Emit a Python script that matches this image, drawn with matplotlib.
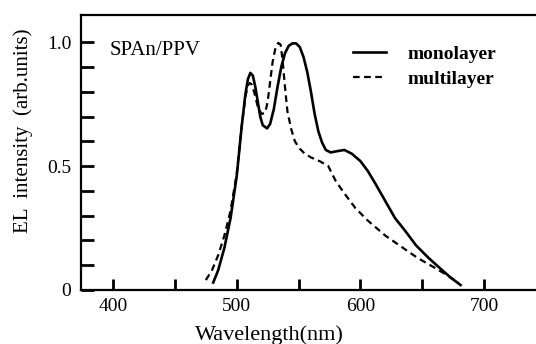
import numpy as np
import matplotlib
matplotlib.use('Agg')
import matplotlib.pyplot as plt

# EL spectra (wavelength in nm, intensity in arb. units)
mono_wl = [481, 485, 490, 495, 500, 504, 507, 509, 511, 513, 515, 517, 519, 521,
           524.5, 527, 530, 533, 536, 539, 542, 545, 548, 551, 554, 557, 560,
           563, 566, 569, 572, 576, 581, 587, 593, 600, 606, 612, 620, 628,
           636, 645, 655, 665, 673, 681]
mono_i = [0.03, 0.08, 0.17, 0.29, 0.46, 0.66, 0.79, 0.85, 0.876, 0.865, 0.82, 0.76,
          0.70, 0.665, 0.652, 0.67, 0.73, 0.82, 0.90, 0.955, 0.985, 0.995, 0.995, 0.98,
          0.94, 0.88, 0.80, 0.71, 0.64, 0.595, 0.565, 0.555, 0.56, 0.565, 0.55, 0.52,
          0.48, 0.43, 0.36, 0.29, 0.24, 0.18, 0.13, 0.085, 0.05, 0.02]

multi_wl = [475, 480, 485, 490, 495, 500, 504, 507, 509, 510.5, 512, 514, 517, 520,
            523, 525, 527, 529, 531, 533.5, 535.5, 537, 539, 541, 544, 547, 551,
            555, 560, 567, 574, 580, 587, 596, 606, 620, 633, 646, 660, 670, 679]
multi_i = [0.04, 0.08, 0.14, 0.22, 0.32, 0.47, 0.66, 0.78, 0.825, 0.835, 0.83, 0.80,
           0.74, 0.71, 0.715, 0.76, 0.84, 0.92, 0.97, 0.997, 0.99, 0.93, 0.82, 0.72,
           0.65, 0.60, 0.57, 0.55, 0.535, 0.52, 0.50, 0.44, 0.39, 0.33, 0.28, 0.22,
           0.175, 0.13, 0.09, 0.06, 0.03]

x_major = [400, 500, 600, 700]
x_minor = [450, 550, 650]
y_major = [0, 0.5, 1.0]
y_labels = ['0', '0.5', '1.0']
y_minor = [0.1, 0.2, 0.3, 0.4, 0.6, 0.7, 0.8, 0.9]

plt.rcParams['font.family'] = ['Liberation Serif', 'DejaVu Serif']

fig = plt.figure(figsize=(5.36, 3.44), dpi=100)
ax = fig.add_axes([0.151, 0.157, 0.849, 0.799])

ax.plot(mono_wl, mono_i, color='black', lw=1.9, label='monolayer')
ax.plot(multi_wl, multi_i, color='black', lw=1.6, dashes=(3, 2), label='multilayer')

ax.set_xlim(374, 742)
ax.set_ylim(0, 1.109)

ax.spines['right'].set_visible(False)
for s in ['left', 'top', 'bottom']:
    ax.spines[s].set_linewidth(1.6)

ax.set_xticks(x_major)
ax.set_xticks(x_minor, minor=True)
ax.set_yticks(y_major)
ax.set_yticklabels(y_labels)
ax.set_yticks(y_minor, minor=True)
ax.tick_params(axis='both', which='both', direction='in', width=2, labelsize=14)
ax.tick_params(axis='y', which='both', length=9, pad=7)
ax.tick_params(axis='x', which='both', length=8, pad=6)
ax.tick_params(top=False, right=False, which='both')

ax.set_xlabel('Wavelength(nm)', fontsize=16)
ax.xaxis.set_label_coords(0.415, -0.13)
ax.set_ylabel('EL  intensity  (arb.units)', fontsize=15)
ax.yaxis.set_label_coords(-0.105, 0.58)

ax.text(0.063, 0.855, 'SPAn/PPV', transform=ax.transAxes, fontsize=15)

leg = ax.legend(loc='upper left', bbox_to_anchor=(0.56, 0.955), frameon=False,
                handlelength=1.7, handletextpad=1.1, labelspacing=0.4,
                prop={'size': 14, 'weight': 'bold'})

fig.savefig('out.png', dpi=100)
